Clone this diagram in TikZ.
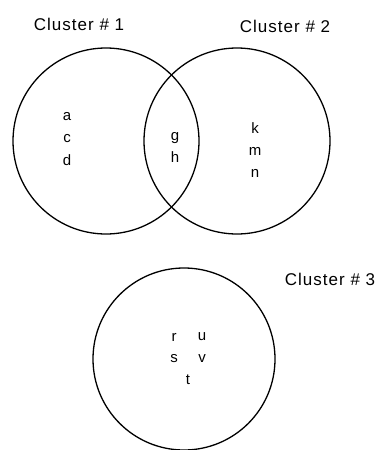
\documentclass[tikz,border=0pt]{standalone}
\usepackage{fontspec}
\setmainfont{Liberation Sans}
\usetikzlibrary{positioning}

\begin{document}
\begin{tikzpicture}[
    x=1pt, y=-1pt,
    cluster/.style={circle, draw=black, line width=1.3pt, minimum size=186pt, inner sep=0pt},
    title/.style={font=\fontsize{17}{20}\selectfont\addfontfeatures{LetterSpace=6}},
    item/.style={font=\fontsize{15}{17}\selectfont, inner sep=0pt}
]
    \useasboundingbox (0,0) rectangle (379,450);

    % Clusters
    \node[cluster] (c1) at (106,141) {};
    \node[cluster] (c2) at (237,141) {};
    \node[cluster, minimum size=182pt] (c3) at (184,359) {};

    % Titles
    \node[title] (t1) at (79,24) {Cluster \# 1};
    \node[title] (t2) at (285,26) {Cluster \# 2};
    \node[title] (t3) at (330,279) {Cluster \# 3};

    % Cluster 1 only
    \node[item] (a) at (67,117) {a};
    \node[item] (c) at (67,139) {c};
    \node[item] (d) at (67,160) {d};

    % Overlap
    \node[item] (g) at (175,138) {g};
    \node[item] (h) at (175,157) {h};

    % Cluster 2 only
    \node[item] (k) at (255,128) {k};
    \node[item] (m) at (255,151) {m};
    \node[item] (n) at (255,173) {n};

    % Cluster 3
    \node[item] (r) at (174,337) {r};
    \node[item] (u) at (202,337) {u};
    \node[item] (s) at (174,359) {s};
    \node[item] (v) at (202,359) {v};
    \node[item] (t) at (188,380) {t};
\end{tikzpicture}
\end{document}
